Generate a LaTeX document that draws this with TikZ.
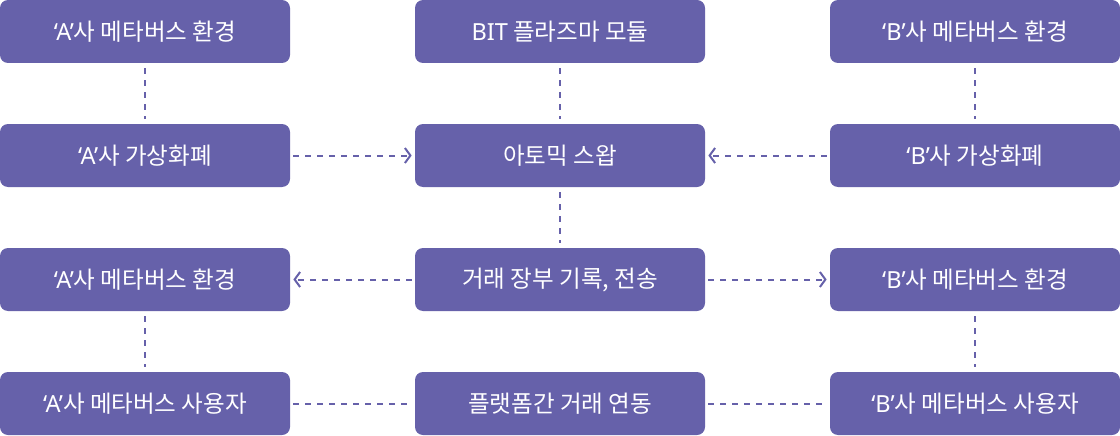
\documentclass[tikz,border=0pt]{standalone}
\usepackage{fontspec}
\setmainfont{Noto Sans CJK KR}
\newfontfamily\latinfont{Noto Sans}
\usepackage{tikz}
\usetikzlibrary{arrows.meta}
\definecolor{swappurple}{HTML}{6661AA}
\newcommand{\firm}[1]{{\latinfont ‘#1’}}

\begin{document}
\begin{tikzpicture}[
	>={Straight Barb[length=0.11cm, width=0.3cm]},
	box/.style={fill=swappurple, rounded corners=0.16cm, minimum width=5.8cm, minimum height=1.26cm,
		inner sep=0pt, text=white, font=\fontsize{13.4}{15}\selectfont},
	link/.style={swappurple, line width=0.04cm, dash pattern=on 0.12cm off 0.12cm,
		shorten >=0.1cm, shorten <=0.1cm},
	side/.style={link, shorten >=0.06cm, shorten <=0.06cm}
	]
	
	\useasboundingbox (0, 0) rectangle (22.4, -8.72);
	
	% row 1
	\node [box] (aEnv) at (2.9, -0.63) {\firm{A}사 메타버스 환경};
	\node [box] (bitMod) at (11.2, -0.63) {{\latinfont BIT} 플라즈마 모듈};
	\node [box] (bEnv) at (19.5, -0.63) {\firm{B}사 메타버스 환경};
	
	% row 2
	\node [box] (aCoin) at (2.9, -3.11) {\firm{A}사 가상화폐};
	\node [box] (swap) at (11.2, -3.11) {아토믹 스왑};
	\node [box] (bCoin) at (19.5, -3.11) {\firm{B}사 가상화폐};
	
	% row 3
	\node [box] (aEnvTwo) at (2.9, -5.59) {\firm{A}사 메타버스 환경};
	\node [box] (ledger) at (11.2, -5.59) {거래 장부 기록, 전송};
	\node [box] (bEnvTwo) at (19.5, -5.59) {\firm{B}사 메타버스 환경};
	
	% row 4
	\node [box] (aUser) at (2.9, -8.07) {\firm{A}사 메타버스 사용자};
	\node [box] (linkage) at (11.2, -8.07) {플랫폼간 거래 연동};
	\node [box] (bUser) at (19.5, -8.07) {\firm{B}사 메타버스 사용자};
	
	% vertical links
	\draw [link] (aEnv) -- (aCoin);
	\draw [link] (bitMod) -- (swap);
	\draw [link] (bEnv) -- (bCoin);
	\draw [link] (swap) -- (ledger);
	\draw [link] (aEnvTwo) -- (aUser);
	\draw [link] (bEnvTwo) -- (bUser);
	
	% horizontal links
	\draw [side, ->] (aCoin) -- (swap);
	\draw [side, ->] (bCoin) -- (swap);
	\draw [side, ->] (ledger) -- (aEnvTwo);
	\draw [side, ->] (ledger) -- (bEnvTwo);
	\draw [side] (aUser) -- (linkage);
	\draw [side] (linkage) -- (bUser);
	
\end{tikzpicture}
\end{document}
